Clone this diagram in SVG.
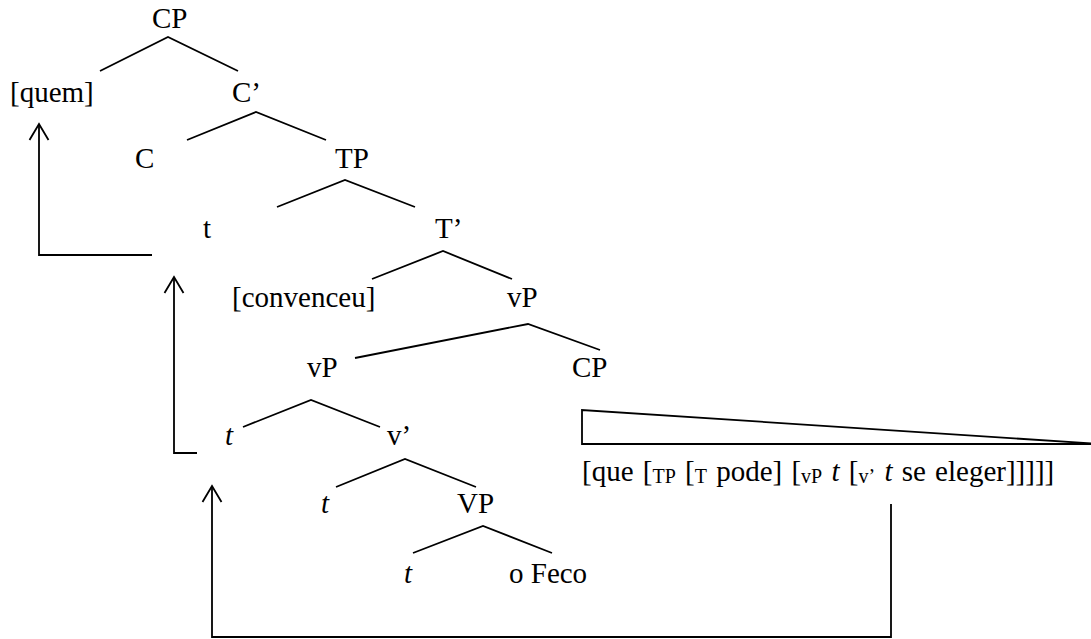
<svg xmlns="http://www.w3.org/2000/svg" width="1091" height="639" viewBox="0 0 1091 639">
  <style>
    text { font-family: "Liberation Serif", "Times New Roman", serif; font-size: 29px; fill: #000; }
    .it { font-style: italic; }
    .sub { font-size: 20px; }
    .flow { word-spacing: 2px; }
    .edge { stroke: #000; stroke-width: 1.8; fill: none; }
    .move { stroke: #000; stroke-width: 1.8; fill: none; marker-end: url(#head); }
  </style>
  <defs>
    <marker id="head" markerUnits="userSpaceOnUse" orient="auto" overflow="visible" refX="0" refY="0" markerWidth="1" markerHeight="1">
      <path d="M-16,-9.5 L0,0 L-16,9.5" fill="none" stroke="#000" stroke-width="1.8"/>
    </marker>
  </defs>
  <rect width="1091" height="639" fill="#fff"/>

  <!-- tree branches and movement paths -->
  <g id="connectors">
    <path class="edge" d="M100,71 L168,37 L238,71"/>
    <path class="edge" d="M187,140 L256,112 L326,140"/>
    <path class="edge" d="M277,207 L345,180 L415,207"/>
    <path class="edge" d="M372,279 L443,251 L512,279"/>
    <path class="edge" d="M355,358 L528,324 L600,350"/>
    <path class="edge" d="M243,427 L311,400 L380,427"/>
    <path class="edge" d="M336,487 L405,459 L476,487"/>
    <path class="edge" d="M413,553 L483,526 L552,553"/>
    <!-- embedded CP shown as a triangle -->
    <path class="edge" d="M582,410 L582,444 L1100,444 Z"/>
    <!-- movement arrows -->
    <path class="move" d="M152,255 L39,255 L39,124"/>
    <path class="move" d="M197,453 L174,453 L174,277"/>
    <path class="move" d="M891,504 L891,637 L212,637 L212,486"/>
  </g>

  <g id="cp-root"><text x="152" y="28">CP</text></g>
  <g id="quem"><text x="10" y="102">[quem]</text></g>
  <g id="c-bar"><text x="232" y="102">C’</text></g>
  <g id="c-head"><text x="135" y="168">C</text></g>
  <g id="tp"><text x="335" y="168">TP</text></g>
  <g id="t-spec"><text x="203" y="238">t</text></g>
  <g id="t-bar"><text x="435" y="238">T’</text></g>
  <g id="convenceu"><text x="232" y="307">[convenceu]</text></g>
  <g id="vp-upper"><text x="507" y="307">vP</text></g>
  <g id="vp-lower"><text x="307" y="377">vP</text></g>
  <g id="cp-embedded"><text x="572" y="377">CP</text></g>
  <g id="t-vspec"><text class="it" x="225" y="445">t</text></g>
  <g id="v-bar"><text x="387" y="445">v’</text></g>
  <g id="t-vcomp"><text class="it" x="321" y="513">t</text></g>
  <g id="vp-big"><text x="457" y="513">VP</text></g>
  <g id="t-vpspec"><text class="it" x="404" y="583">t</text></g>
  <g id="o-feco"><text x="509" y="583">o Feco</text></g>
  <g id="cp-content"><text class="flow" x="582" y="481">[que [<tspan class="sub" dy="2">TP</tspan><tspan dy="-2"> [</tspan><tspan class="sub" dy="2">T</tspan><tspan dy="-2"> pode] [</tspan><tspan class="sub" dy="2">vP</tspan><tspan dy="-2"> </tspan><tspan class="it">t</tspan> [<tspan class="sub" dy="2">v’</tspan><tspan dy="-2"> </tspan><tspan class="it">t</tspan> se eleger]]]]]</text></g>
</svg>
